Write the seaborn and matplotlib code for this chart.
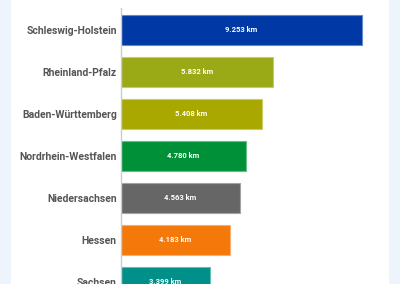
import matplotlib
matplotlib.use("Agg")
import matplotlib.pyplot as plt
import seaborn as sns
import pandas as pd
from matplotlib.patches import Rectangle

states = ["Schleswig-Holstein", "Rheinland-Pfalz", "Baden-Württemberg",
          "Nordrhein-Westfalen", "Niedersachsen", "Hessen", "Sachsen"]
km = [9253, 5832, 5408, 4780, 4563, 4183, 3399]
labels = ["9.253 km", "5.832 km", "5.408 km", "4.780 km", "4.563 km", "4.183 km", "3.399 km"]
colors = ["#0039A6", "#9AAA17", "#A8A800", "#009138", "#666666", "#F5780A", "#008F89"]

df = pd.DataFrame({"state": states, "km": km})

sns.set_theme(style="white")
plt.rcParams['font.family'] = ['Roboto', 'DejaVu Sans']

fig = plt.figure(figsize=(4, 2.84), dpi=100)
fig.patch.set_facecolor("#EEF4FC")
fig.add_artist(Rectangle((11/400, 0), 378/400, 1, transform=fig.transFigure,
                         facecolor="white", edgecolor="none", zorder=0))

ax = fig.add_axes([121/400, 0, 268/400, 276/284])
ax.set_facecolor("none")
sns.barplot(data=df, x="km", y="state", hue="state", palette=colors, legend=False,
            width=0.71, ax=ax, saturation=1, orient="h")
for p, c in zip(ax.patches, colors):
    p.set_edgecolor(matplotlib.colors.to_hex(
        [min(1, v * 0.6 + 0.4) for v in matplotlib.colors.to_rgb(c)]))
    p.set_linewidth(0.8)
for i, (v, lab) in enumerate(zip(km, labels)):
    ax.text(v / 2, i, lab, ha="center", va="center", color="white",
            fontsize=5.5, fontweight="bold")

ax.set_xlim(0, 268 / 0.02605)
ax.set_ylim(6.05, -0.524)
ax.set_xlabel("")
ax.set_ylabel("")
ax.set_xticks([])
for s in ["top", "right", "bottom"]:
    ax.spines[s].set_visible(False)
ax.spines["left"].set_color("#C5CCD6")
ax.spines["left"].set_linewidth(1)
ax.tick_params(axis="y", length=0, pad=3)
for t in ax.get_yticklabels():
    t.set_color("#555555")
    t.set_fontsize(7.5)
    t.set_fontweight("bold")

fig.savefig("out.png", dpi=100)
